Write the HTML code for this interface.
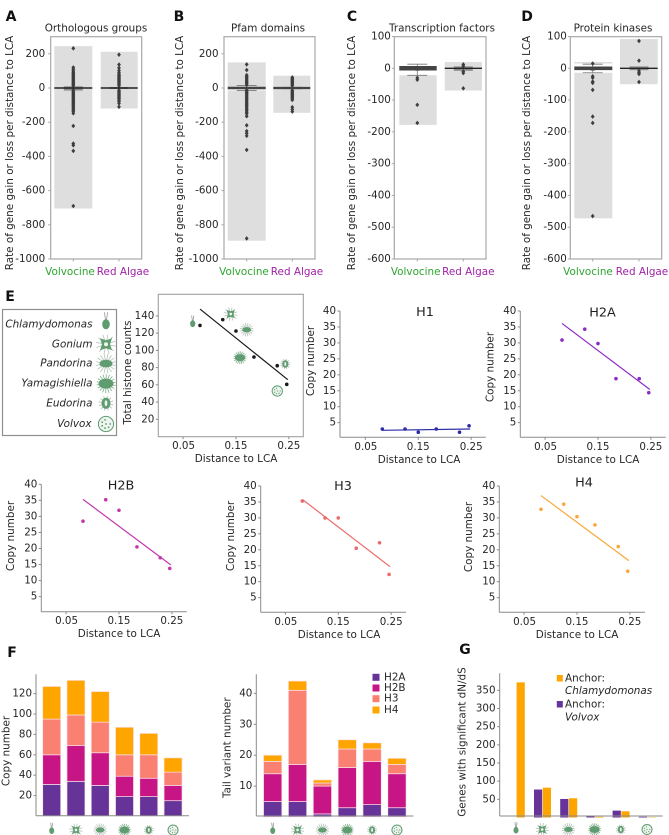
<!DOCTYPE html>
<html lang="en">
<head>
<meta charset="utf-8">
<title>Histone and gene family dynamics figure</title>
<style>
html,body{margin:0;padding:0;background:#fff;}
svg{display:block;font-family:"DejaVu Sans","Liberation Sans",sans-serif;fill:#262626;filter:blur(0.3px);}
</style>
</head>
<body>
<svg id="fig" xmlns="http://www.w3.org/2000/svg" width="669" height="835" viewBox="0 0 669 835"></svg>
<script>
/* ---------- data: panels A-D ---------- */
const boxCategories = ['Volvocine', 'Red  Algae'];
const boxTitles = ['Orthologous groups', 'Pfam domains', 'Transcription factors', 'Protein kinases'];
const boxTicksAB = [200, 0, -200, -400, -600, -800, -1000];
const boxTicksCD = [100, 0, -100, -200, -300, -400, -500, -600];
const aVolvRange = [245, -705];
const aRedRange = [212, -120];
const bVolvRange = [150, -893];
const bRedRange = [72, -145];
const cVolvRange = [-22, -178];
const cRedRange = [20, -70];
const dVolvRange = [20, -472];
const dRedRange = [92, -50];
const aVolvFliers = [232, 120, 110, 100, 92, 85, 79, 73, 67, 61, 55, 49, 43, 37, 31, 25, 19, 13, -13, -19, -25, -31, -37, -43, -49, -55, -61, -67, -73, -79, -85, -91, -97, -103, -109, -116, -123, -130, -137, -148, -222, -325, -335, -368, -690];
const aRedFliers = [195, 137, 118, 102, 90, 80, 73, 67, 61, 55, 49, 43, 37, 31, 25, 19, 13, -13, -19, -25, -31, -37, -43, -49, -55, -62, -70, -78, -90, -110];
const bVolvFliers = [138, 105, 75, 67, 60, 53, 46, 39, 32, 25, 18, -12, -19, -26, -33, -40, -47, -54, -61, -68, -75, -82, -89, -96, -103, -110, -118, -126, -134, -142, -150, -165, -218, -252, -265, -280, -362, -880];
const bRedFliers = [62, 56, 50, 44, 38, 32, 26, 20, 14, -14, -20, -26, -32, -38, -44, -50, -56, -62, -70, -112, -125, -138];
const cVolvFliers = [-30, -36, -115, -172];
const cRedFliers = [12, 7, -10, -15, -63];
const dVolvFliers = [15, -25, -30, -42, -46, -68, -152, -172, -465];
const dRedFliers = [86, 24, -8, -14, -18, -43];
const aBoxes = [[10, -15], [6, -6]];
const bBoxes = [[4, -4], [7, -7]];
const cBoxes = [[4, -8], [6, -8]];
const dBoxes = [[4, -8], [6, -6]];
const bWhisk = [15, -15];
const cWhisk = [13, -22];
const dWhisk = [13, -14];

/* ---------- data: panel E ---------- */
const distances = [0.082, 0.125, 0.15, 0.184, 0.228, 0.246];
const xTickVals = [0.05, 0.15, 0.25];
const yTickCopy = [5, 10, 15, 20, 25, 30, 35, 40];
const yTickTotal = [20, 40, 60, 80, 100, 120, 140];
const totalCounts = [129, 135.7, 122.5, 92.3, 82.2, 60.6];
const totalFit = [148, 66];
const h1Counts = [3, 3, 2, 3, 2, 4];
const h1Fit = [2.6, 3];
const h2aCounts = [30.9, 34.3, 29.8, 18.8, 18.8, 14.4];
const h2aFit = [36.1, 15.4];
const h2bCounts = [28.5, 35.2, 31.9, 20.5, 17.1, 13.8];
const h2bFit = [35.3, 14.9];
const h3Counts = [35.3, 30, 30, 20.5, 22.2, 12.3];
const h3Fit = [35.8, 14.7];
const h4Counts = [32.7, 34.3, 30.4, 27.8, 21, 13.3];
const h4Fit = [37, 16.6];
const fitX = [0.082, 0.248];
const speciesNames = ['Chlamydomonas', 'Gonium', 'Pandorina', 'Yamagishiella', 'Eudorina', 'Volvox'];

/* ---------- data: panel F ---------- */
const histoneNames = ['H2A', 'H2B', 'H3', 'H4'];
const copyH2A = [31, 34, 30, 19, 19, 15];
const copyH2B = [29, 35, 32, 20, 18, 15];
const copyH3 = [35, 30, 30, 21, 23, 13];
const copyH4 = [32, 34, 30, 27, 21, 14];
const copyTicks = [20, 40, 60, 80, 100, 120];
const tailH2A = [5, 5, 1, 3, 4, 3];
const tailH2B = [9, 12, 9, 13, 14, 11];
const tailH3 = [4, 24, 1, 6, 4, 3];
const tailH4 = [2, 3, 1, 3, 2, 2];
const tailTicks = [10, 20, 30, 40];

/* ---------- data: panel G ---------- */
const anchorChlamy = [372, 82, 53, 2, 17, 1];
const anchorVolvox = [0, 77, 51, 3, 19, 2];
const dnTicks = [50, 100, 150, 200, 250, 300, 350];

/* ---------- drawing helpers ---------- */
const NS = 'http://www.w3.org/2000/svg';
const root = document.getElementById('fig');
const INK = '#262626';
const FS = 10.4;
const TICK_FS = 10.3;

function add(tag, attrs, name, parent) {
  const el = document.createElementNS(NS, tag);
  for (const k in attrs) el.setAttribute(k, attrs[k]);
  
  
  (parent || root).appendChild(el);
  return el;
}
function line(x1, y1, x2, y2, stroke, w, name, parent) {
  return add('line', {x1, y1, x2, y2, stroke, 'stroke-width': w}, name, parent);
}
function rect(x, y, width, height, fill, name, parent) {
  return add('rect', {x, y, width: Math.max(width, 0), height: Math.max(height, 0), fill}, name, parent);
}
function text(str, x, y, size, name, opts, parent) {
  const o = opts || {};
  const t = add('text', {
    x, y,
    'font-size': size,
    'text-anchor': o.anchor || 'middle',
    'dominant-baseline': 'central',
    fill: o.fill || INK,
    'xml:space': 'preserve'
  }, name, parent);
  if (o.italic) t.setAttribute('font-style', 'italic');
  if (o.bold) t.setAttribute('font-weight', 'bold');
  if (o.rotate) t.setAttribute('transform', 'rotate(-90 ' + x + ' ' + y + ')');
  t.textContent = str;
  return t;
}

/* ---------- organism icons ---------- */
const GREEN = '#5f9c6f';
const SPIKE = '#b4c2b8';
function spikes(g, cx, cy, r, n, col, w) {
  for (let i = 0; i < n; i++) {
    const a = i * 2 * Math.PI / n + 0.2;
    line(cx, cy, cx + r * Math.cos(a), cy + r * Math.sin(a), col, w, 'icon-spike', g);
  }
}
function icon(kind, cx, cy, s, parent) {
  const g = add('g', {}, 'icon-' + kind.toLowerCase(), parent);
  if (kind === 'Chlamydomonas') {
    line(cx - 1.6 * s, cy - 11 * s, cx - 0.4 * s, cy - 3 * s, '#999', 0.8, 'icon-flagellum', g);
    line(cx + 1.6 * s, cy - 11 * s, cx + 0.4 * s, cy - 3 * s, '#999', 0.8, 'icon-flagellum', g);
    add('ellipse', {cx, cy: cy + 1 * s, rx: 3.8 * s, ry: 5 * s, fill: GREEN}, 'icon-cell', g);
  } else if (kind === 'Gonium') {
    spikes(g, cx, cy, 10 * s, 12, SPIKE, 0.8);
    add('polygon', {points: [
      (cx - 6 * s) + ',' + (cy - 6 * s), cx + ',' + (cy - 4 * s), (cx + 6 * s) + ',' + (cy - 6 * s),
      (cx + 4 * s) + ',' + cy, (cx + 6 * s) + ',' + (cy + 6 * s), cx + ',' + (cy + 4 * s),
      (cx - 6 * s) + ',' + (cy + 6 * s), (cx - 4 * s) + ',' + cy
    ].join(' '), fill: GREEN}, 'icon-cell', g);
    add('circle', {cx, cy, r: 2 * s, fill: '#eef4ef'}, 'icon-centre', g);
  } else if (kind === 'Pandorina') {
    spikes(g, cx, cy, 10 * s, 16, SPIKE, 0.8);
    add('ellipse', {cx, cy, rx: 6.5 * s, ry: 3.8 * s, fill: GREEN}, 'icon-cell', g);
  } else if (kind === 'Yamagishiella') {
    spikes(g, cx, cy, 9.5 * s, 18, '#7dab89', 0.8);
    add('ellipse', {cx, cy, rx: 7.5 * s, ry: 5 * s, fill: GREEN}, 'icon-cell', g);
  } else if (kind === 'Eudorina') {
    spikes(g, cx, cy, 7.5 * s, 12, SPIKE, 0.9);
    add('ellipse', {cx, cy, rx: 4.5 * s, ry: 5.5 * s, fill: GREEN}, 'icon-cell', g);
    add('ellipse', {cx, cy, rx: 1.4 * s, ry: 3 * s, fill: '#eef4ef'}, 'icon-centre', g);
  } else {
    add('circle', {cx, cy, r: 7.6 * s, fill: '#eef4ef', stroke: GREEN, 'stroke-width': 1}, 'icon-cell', g);
    for (let i = 0; i < 7; i++) {
      const a = i * 2 * Math.PI / 7;
      const r = i === 6 ? 0 : 4.2 * s;
      add('circle', {cx: cx + r * Math.cos(a), cy: cy + r * Math.sin(a), r: 0.9 * s, fill: GREEN}, 'icon-dot', g);
    }
  }
}

/* ---------- panel letters ---------- */
const letterLayout = [['A', 11, 17], ['B', 179, 17], ['C', 352, 17], ['D', 527, 17], ['E', 10, 297], ['F', 12, 653], ['G', 465, 650]];
letterLayout.forEach(l => {
  text(l[0], l[1], l[2], 14, 'panel-label-' + l[0].toLowerCase(), {bold: true, fill: '#111'});
});

/* ---------- panels A-D: box charts ---------- */
function boxPanel(cfg) {
  const g = add('g', {}, 'panel-' + cfg.id, root);
  const top = 36.7, bottom = 259;
  const yOf = v => cfg.y0 + (cfg.y1 - cfg.y0) * (v - cfg.v0) / (cfg.v1 - cfg.v0);

  cfg.ranges.forEach((rg, i) => {
    rect(cfg.rects[i][0], yOf(rg[0]), cfg.rects[i][1] - cfg.rects[i][0], yOf(rg[1]) - yOf(rg[0]), '#dedede', 'range-bar-' + boxCategories[i].replace(/\s+/g, '-').toLowerCase(), g);
  });
  if (cfg.band) {
    rect(cfg.rects[0][0], yOf(cfg.band[0]), cfg.rects[0][1] - cfg.rects[0][0], yOf(cfg.band[1]) - yOf(cfg.band[0]), '#fff', 'box-background', g);
  }
  cfg.boxes.forEach((b, i) => {
    const cx = cfg.cats[i];
    rect(cx - cfg.boxW[i] / 2, yOf(b[0]), cfg.boxW[i], yOf(b[1]) - yOf(b[0]), '#8c8c8c', 'iqr-box', g);
  });
  if (cfg.whisk) {
    const cx = cfg.cats[0];
    line(cx, yOf(cfg.whisk[0]), cx, yOf(cfg.whisk[1]), '#777', 0.8, 'whisker', g);
    line(cx - 10, yOf(cfg.whisk[0]), cx + 10, yOf(cfg.whisk[0]), '#777', 0.8, 'whisker-cap', g);
    line(cx - 10, yOf(cfg.whisk[1]), cx + 10, yOf(cfg.whisk[1]), '#777', 0.8, 'whisker-cap', g);
  }
  cfg.fliers.forEach((arr, i) => {
    const cx = cfg.cats[i];
    arr.forEach(v => {
      const y = yOf(v);
      add('polygon', {points: cx + ',' + (y - 2.3) + ' ' + (cx + 1.9) + ',' + y + ' ' + cx + ',' + (y + 2.3) + ' ' + (cx - 1.9) + ',' + y, fill: '#3d3d3d'}, 'outlier', g);
    });
  });
  cfg.medW.forEach((w, i) => {
    line(cfg.rects[i][0], yOf(0), cfg.rects[i][1], yOf(0), w > 2 ? '#444' : '#222', w, 'median-line', g);
  });
  rect(cfg.left, top, cfg.right - cfg.left, bottom - top, 'none', 'plot-frame', g).setAttribute('stroke', '#a8a8a8');
  g.lastChild.setAttribute('stroke-width', '1.2');
  cfg.ticks.forEach(v => {
    line(cfg.left - 2.5, yOf(v), cfg.left, yOf(v), '#a8a8a8', 1, 'y-tick', g);
    text(String(v), cfg.left - cfg.tickGap, yOf(v), TICK_FS, 'y-tick-label', {anchor: 'end'}, g);
  });
  cfg.cats.forEach(c => line(c, bottom, c, bottom + 2.5, '#a8a8a8', 1, 'x-tick', g));
  text(boxCategories[0], cfg.labels[0], 272, FS, 'x-label-volvocine', {fill: '#2ea52e'}, g);
  text(boxCategories[1], cfg.labels[1], 272, FS, 'x-label-red-algae', {fill: '#a020a8'}, g);
  text(cfg.title, cfg.titleX, 28.7, FS, 'chart-title', {}, g);
  text('Rate of gene gain or loss per distance to LCA', cfg.ylabelX, 153, FS, 'y-axis-title', {rotate: true}, g);
}
const layoutAB = {v0: 0, y0: 88, v1: -1000, y1: 259, ticks: boxTicksAB};
const layoutCD = {v0: 0, y0: 68.3, v1: -600, y1: 259, ticks: boxTicksCD};
boxPanel(Object.assign({}, layoutAB, {
  id: 'a', left: 50.7, right: 141.7, tickGap: 5.5, cats: [73.3, 119],
  rects: [[54.3, 92.3], [100.7, 137.7]], ranges: [aVolvRange, aRedRange],
  boxes: aBoxes, boxW: [19, 19], fliers: [aVolvFliers, aRedFliers], medW: [1.4, 1.4],
  labels: [70, 123], title: boxTitles[0], titleX: 96, ylabelX: 10
}));
boxPanel(Object.assign({}, layoutAB, {
  id: 'b', left: 224, right: 315, tickGap: 5.5, cats: [246.7, 292.3],
  rects: [[227.7, 265.7], [273.3, 310.3]], ranges: [bVolvRange, bRedRange],
  band: [-9, -14], whisk: bWhisk,
  boxes: bBoxes, boxW: [4, 19], fliers: [bVolvFliers, bRedFliers], medW: [2.6, 2.2],
  labels: [244, 297], title: boxTitles[1], titleX: 268, ylabelX: 180
}));
boxPanel(Object.assign({}, layoutCD, {
  id: 'c', left: 394.3, right: 486, tickGap: 3.5, cats: [417.3, 463.3],
  rects: [[399.3, 436.7], [444.7, 482]], ranges: [cVolvRange, cRedRange],
  whisk: cWhisk,
  boxes: cBoxes, boxW: [4, 19], fliers: [cVolvFliers, cRedFliers], medW: [4.5, 1.4],
  labels: [415.7, 468.3], title: boxTitles[2], titleX: 442, ylabelX: 352
}));
boxPanel(Object.assign({}, layoutCD, {
  id: 'd', left: 570.3, right: 661.7, tickGap: 3.5, cats: [592.7, 639],
  rects: [[574.3, 612.3], [620, 657.7]], ranges: [dVolvRange, dRedRange],
  band: [15, -14], whisk: dWhisk,
  boxes: dBoxes, boxW: [4, 19], fliers: [dVolvFliers, dRedFliers], medW: [3.6, 1.4],
  labels: [588, 642], title: boxTitles[3], titleX: 613, ylabelX: 527
}));

/* ---------- panel E: species legend ---------- */
const legendGroup = add('g', {}, 'species-legend', root);
rect(2.5, 309.5, 114, 126, '#fff', 'legend-box', legendGroup).setAttribute('stroke', '#8f8f8f');
legendGroup.lastChild.setAttribute('stroke-width', '1.2');
const legendY = [324.3, 344.3, 363.6, 383.6, 403.3, 424];
const labelRight = [92.5, 92.5, 92.5, 92.5, 92.5, 91.5];
speciesNames.forEach((n, i) => {
  text(n, labelRight[i], legendY[i], FS, 'legend-species-' + n.toLowerCase(), {anchor: 'end', italic: true}, legendGroup);
  icon(n, 106, legendY[i] - (i === 0 ? 1 : 0), 1, legendGroup);
});

/* ---------- panel E: scatter charts ---------- */
function scatter(cfg) {
  const g = add('g', {}, cfg.name, root);
  const xOf = v => cfg.xAt082 + (v - 0.082) * 529;
  const yOf = v => cfg.y0 - v * cfg.yScale;
  if (cfg.framed) {
    rect(cfg.left, cfg.top, cfg.right - cfg.left, cfg.bottom - cfg.top, 'none', 'plot-frame', g).setAttribute('stroke', '#a0a0a0');
    g.lastChild.setAttribute('stroke-width', '1.1');
  } else {
    line(cfg.left, cfg.top, cfg.left, cfg.bottom, '#8a8a8a', 1, 'y-axis-line', g);
    line(cfg.left, cfg.bottom, cfg.right, cfg.bottom, '#8a8a8a', 1, 'x-axis-line', g);
  }
  cfg.yTicks.forEach(v => {
    line(cfg.left - 2.5, yOf(v), cfg.left, yOf(v), '#8a8a8a', 1, 'y-tick', g);
    text(String(v), cfg.left - 4, yOf(v), TICK_FS, 'y-tick-label', {anchor: 'end'}, g);
  });
  xTickVals.forEach(v => {
    line(xOf(v), cfg.bottom, xOf(v), cfg.bottom + 2.5, '#8a8a8a', 1, 'x-tick', g);
    text(v.toFixed(2), xOf(v) - (v === 0.05 ? -0.5 : 0), cfg.bottom + 9.5, TICK_FS, 'x-tick-label', {}, g);
  });
  text('Distance to LCA', cfg.xLabelX, cfg.bottom + 22.5, FS, 'x-axis-title', {}, g);
  text(cfg.yLabel, cfg.yLabelX, cfg.yLabelY, FS, 'y-axis-title', {rotate: true}, g);
  if (cfg.title) text(cfg.title, cfg.titleX, cfg.titleY, 12.8, 'chart-title', {fill: '#1f1f1f'}, g);
  line(xOf(fitX[0]), yOf(cfg.fit[0]), xOf(fitX[1]), yOf(cfg.fit[1]), cfg.color, 1.2, 'trend-line', g);
  cfg.values.forEach((v, i) => {
    add('circle', {cx: xOf(distances[i]), cy: yOf(v), r: 1.8, fill: cfg.color}, 'point-' + speciesNames[i].toLowerCase(), g);
  });
}
scatter({name: 'total-histone-chart', framed: true, left: 158.3, right: 303.3, top: 294.3, bottom: 436.7, xAt082: 200, y0: 436.5, yScale: 0.861, yTicks: yTickTotal, values: totalCounts, fit: totalFit, color: '#1a1a1a', yLabel: 'Total histone counts', yLabelX: 128, yLabelY: 372.5, xLabelX: 236});
scatter({name: 'h1-chart', left: 340, right: 485.7, top: 311, bottom: 437.3, xAt082: 382.3, y0: 438.6, yScale: 3.19, yTicks: yTickCopy, values: h1Counts, fit: h1Fit, color: '#2e2ea6', yLabel: 'Copy number', yLabelX: 311, yLabelY: 361, xLabelX: 419, title: 'H1', titleX: 425, titleY: 312.7});
scatter({name: 'h2a-chart', left: 520.3, right: 665.7, top: 311, bottom: 437.3, xAt082: 562, y0: 438.6, yScale: 3.19, yTicks: yTickCopy, values: h2aCounts, fit: h2aFit, color: '#8a2bc4', yLabel: 'Copy number', yLabelX: 490.7, yLabelY: 367, xLabelX: 598, title: 'H2A', titleX: 602.5, titleY: 313});
scatter({name: 'h2b-chart', left: 41.3, right: 186.7, top: 484.3, bottom: 611.7, xAt082: 83, y0: 612.7, yScale: 3.21, yTicks: yTickCopy, values: h2bCounts, fit: h2bFit, color: '#c238ad', yLabel: 'Copy number', yLabelX: 11, yLabelY: 536, xLabelX: 119, title: 'H2B', titleX: 121, titleY: 486});
scatter({name: 'h3-chart', left: 260.7, right: 406, top: 486, bottom: 612.3, xAt082: 302.3, y0: 613.6, yScale: 3.19, yTicks: yTickCopy, values: h3Counts, fit: h3Fit, color: '#ec6a6a', yLabel: 'Copy number', yLabelX: 231, yLabelY: 536, xLabelX: 339, title: 'H3', titleX: 343, titleY: 486.7});
scatter({name: 'h4-chart', left: 499.3, right: 645, top: 486, bottom: 612.3, xAt082: 541, y0: 613.6, yScale: 3.19, yTicks: yTickCopy, values: h4Counts, fit: h4Fit, color: '#fba63c', yLabel: 'Copy number', yLabelX: 469, yLabelY: 537, xLabelX: 577, title: 'H4', titleX: 584, titleY: 483});

/* scatter overlay icons */
const overlayGroup = add('g', {}, 'species-icons-on-scatter', root);
const overlayPos = [[192.7, 323], [230.7, 314], [246.7, 329.7], [240, 357.7], [285.3, 364], [277.3, 391]];
speciesNames.forEach((n, i) => {
  icon(n, overlayPos[i][0], overlayPos[i][1], 0.68, overlayGroup);
});

/* ---------- panel F: stacked bars ---------- */
const stackColors = ['#663399', '#c71585', '#fa8072', '#ffa500'];
function stacked(cfg) {
  const g = add('g', {}, cfg.name, root);
  const yOf = v => cfg.y0 - v * cfg.yScale;
  const xOf = i => cfg.x0 + i * cfg.step;
  cfg.series[0].forEach((_, i) => {
    let base = 0;
    cfg.series.forEach((arr, s) => {
      const r = rect(xOf(i) - cfg.barW / 2, yOf(base + arr[i]), cfg.barW, arr[i] * cfg.yScale, stackColors[s], 'bar-' + histoneNames[s].toLowerCase() + '-' + speciesNames[i].toLowerCase(), g);
      r.setAttribute('stroke', '#fbe3ea');
      r.setAttribute('stroke-width', '0.7');
      base += arr[i];
    });
    icon(speciesNames[i], xOf(i), 830, 0.66, g);
  });
  line(cfg.left, cfg.top, cfg.left, cfg.bottom, '#8a8a8a', 1, 'y-axis-line', g);
  line(cfg.left, cfg.bottom, cfg.right, cfg.bottom, '#8a8a8a', 1, 'x-axis-line', g);
  cfg.ticks.forEach(v => {
    line(cfg.left - 2.5, yOf(v), cfg.left, yOf(v), '#8a8a8a', 1, 'y-tick', g);
    text(String(v), cfg.left - 4, yOf(v), TICK_FS, 'y-tick-label', {anchor: 'end'}, g);
  });
  text(cfg.yLabel, cfg.yLabelX, cfg.yLabelY, FS, 'y-axis-title', {rotate: true}, g);
}
stacked({name: 'copy-number-stacked-chart', left: 36, right: 189, top: 674.3, bottom: 815.7, x0: 51.7, step: 24.27, barW: 18, y0: 816, yScale: 1.02, series: [copyH2A, copyH2B, copyH3, copyH4], ticks: copyTicks, yLabel: 'Copy number', yLabelX: 6.5, yLabelY: 751});
stacked({name: 'tail-variant-stacked-chart', left: 256.3, right: 413.3, top: 674.3, bottom: 816, x0: 272.7, step: 24.85, barW: 18.3, y0: 817, yScale: 3.09, series: [tailH2A, tailH2B, tailH3, tailH4], ticks: tailTicks, yLabel: 'Tail variant number', yLabelX: 227.3, yLabelY: 747.7});

const histLegend = add('g', {}, 'histone-legend', root);
const histLegendY = [677.3, 688, 698.7, 710];
histoneNames.forEach((n, i) => {
  rect(372.5, histLegendY[i] - 3.5, 7, 7, stackColors[i], 'legend-swatch-' + n.toLowerCase(), histLegend);
  text(n, 384, histLegendY[i], FS, 'legend-entry-' + n.toLowerCase(), {anchor: 'start'}, histLegend);
});

/* ---------- panel G: grouped bars ---------- */
const gGroup = add('g', {}, 'dnds-chart', root);
const gY = v => 817.5 - v * 0.3633;
const gX = i => 516 + i * 26.2;
speciesNames.forEach((n, i) => {
  rect(gX(i) - 8.2, gY(anchorVolvox[i]), 8.2, anchorVolvox[i] * 0.3633, '#663399', 'bar-volvox-' + n.toLowerCase(), gGroup);
  rect(gX(i) + 0.6, gY(anchorChlamy[i]), 8.2, anchorChlamy[i] * 0.3633, '#ffa500', 'bar-chlamydomonas-' + n.toLowerCase(), gGroup);
  icon(n, gX(i), 829.5, 0.66, gGroup);
});
line(499.7, 673.3, 499.7, 816, '#8a8a8a', 1, 'y-axis-line', gGroup);
line(499.7, 816, 662.7, 816, '#8a8a8a', 1, 'x-axis-line', gGroup);
dnTicks.forEach(v => {
  line(497.2, gY(v), 499.7, gY(v), '#8a8a8a', 1, 'y-tick', gGroup);
  text(String(v), 495.5, gY(v), TICK_FS, 'y-tick-label', {anchor: 'end'}, gGroup);
});
text('Genes with significant dN/dS', 462.7, 742, FS, 'y-axis-title', {rotate: true}, gGroup);
rect(556.8, 675, 6, 6.5, '#ffa500', 'legend-swatch-chlamydomonas', gGroup);
text('Anchor:', 565, 678.3, FS, 'legend-entry-anchor-chlamydomonas', {anchor: 'start'}, gGroup);
text('Chlamydomonas', 565, 691, FS, 'legend-entry-chlamydomonas', {anchor: 'start', italic: true}, gGroup);
rect(556.8, 701, 6, 6.5, '#663399', 'legend-swatch-volvox', gGroup);
text('Anchor:', 565, 704.3, FS, 'legend-entry-anchor-volvox', {anchor: 'start'}, gGroup);
text('Volvox', 565, 717.3, FS, 'legend-entry-volvox', {anchor: 'start', italic: true}, gGroup);
</script>
</body>
</html>
